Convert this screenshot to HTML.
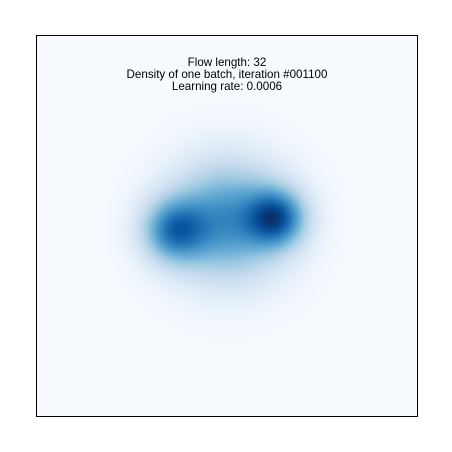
<!DOCTYPE html>
<html><head><meta charset="utf-8">
<style>
body{margin:0;background:#fff;width:452px;height:452px;overflow:hidden;font-family:"Liberation Sans",sans-serif}
#wrap{position:absolute;left:0;top:0;width:452px;height:452px}
#plot{position:absolute;left:37px;top:36px}
#frame{position:absolute;left:36px;top:35px;width:380px;height:380px;border:1px solid #000}
.t{position:absolute;left:36px;width:382px;text-align:center;font-size:11.6px;color:#000;line-height:12px}
</style></head><body>
<div id="wrap">
<canvas id="plot" width="380" height="380"></canvas>
<div id="frame"></div>
<div class="t" style="top:57px">Flow length: 32</div>
<div class="t" style="top:69px">Density of one batch, iteration #001100</div>
<div class="t" style="top:81px">Learning rate: 0.0006</div>
</div>
<script>
// Gaussian mixture components (data coords, domain [-4,4])
const compX = [-1.12, 1.05, 0.02, 0.0];
const compY = [-0.1, 0.17, 0.12, 0.0];
const compSx = [0.46, 0.42, 0.85, 1.2];
const compSy = [0.46, 0.42, 0.85, 1.2];
const compW = [1.0, 1.15, 1.0, 0.08];
const xDomain = [-4, 4];
const yDomain = [-4, 4];

const stops=[[247,251,255],[222,235,247],[198,219,239],[158,202,225],[107,174,214],[66,146,198],[33,113,181],[8,81,156],[8,48,107]];
function blues(v){v=Math.max(0,Math.min(1,v));const p=v*8,i=Math.min(7,Math.floor(p)),f=p-i;
return stops[i].map((c,k)=>Math.round(c+(stops[i+1][k]-c)*f));}
const cv=document.getElementById('plot'),ctx=cv.getContext('2d');
const W=cv.width,H=cv.height,img=ctx.createImageData(W,H);
function px2x(p){return xDomain[0]+(p+0.5)/W*(xDomain[1]-xDomain[0]);}
function px2y(p){return yDomain[1]-(p+0.5)/H*(yDomain[1]-yDomain[0]);}
const dens=new Float32Array(W*H);let mx=0;
for(let j=0;j<H;j++)for(let i=0;i<W;i++){const x=px2x(i),y=px2y(j);let d=0;
for(let k=0;k<compX.length;k++){const dx=(x-compX[k])/compSx[k],dy=(y-compY[k])/compSy[k];d+=compW[k]*Math.exp(-0.5*(dx*dx+dy*dy));}
dens[j*W+i]=d;if(d>mx)mx=d;}
for(let n=0;n<W*H;n++){const c=blues(dens[n]/mx);img.data[n*4]=c[0];img.data[n*4+1]=c[1];img.data[n*4+2]=c[2];img.data[n*4+3]=255;}
ctx.putImageData(img,0,0);
</script>
</body></html>
